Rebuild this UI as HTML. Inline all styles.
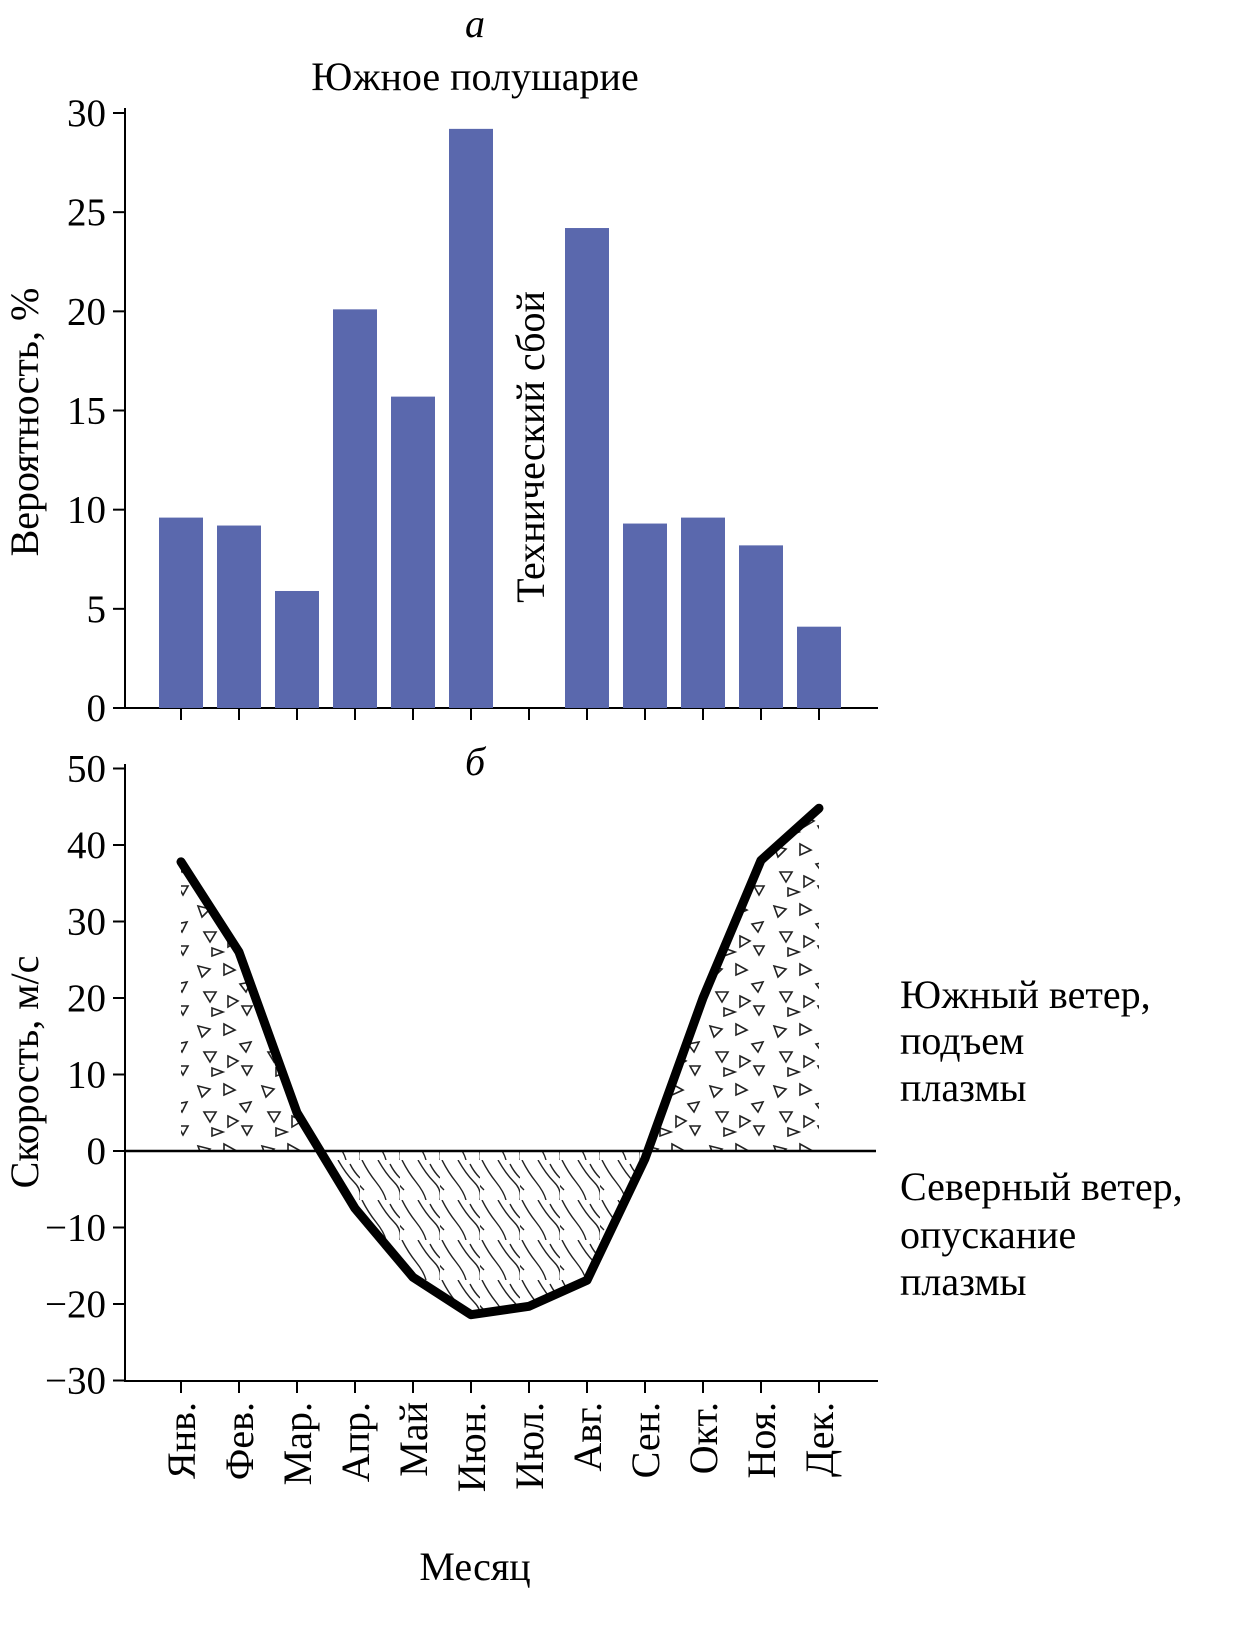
<!DOCTYPE html>
<html><head><meta charset="utf-8"><style>
html,body{margin:0;padding:0;background:#fff}
svg{display:block;font-family:"Liberation Serif",serif}
</style></head><body>
<svg id="c" width="1249" height="1631" viewBox="0 0 1249 1631">
<defs>
<pattern id="tri" width="64" height="60" patternUnits="userSpaceOnUse">
<g fill="none" stroke="#222" stroke-width="1.6">
<path d="M6 6 l12 3 l-8 8z"/><path d="M32 4 l11 6 l-11 5z"/><path d="M48 24 l11 -2 l-5 10z"/>
<path d="M12 32 l12 0 l-6 10z"/><path d="M36 36 l10 5 l-10 6z"/><path d="M20 48 l11 4 l-11 4z"/><path d="M50 46 l10 0 l-5 9z"/>
</g></pattern>
<pattern id="wav" width="40" height="40" patternUnits="userSpaceOnUse">
<g fill="none" stroke="#222" stroke-width="1.4">
<path d="M2 0 q6 12 14 22 t10 18"/><path d="M18 0 q8 14 16 22 t6 18"/><path d="M-12 10 q6 10 16 20"/><path d="M30 4 q4 8 10 14"/>
</g></pattern>
<clipPath id="above"><rect x="125" y="700" width="760" height="451"/></clipPath>
<clipPath id="below"><rect x="125" y="1151" width="760" height="300"/></clipPath>
</defs>
<text x="475" y="37" font-size="40" font-style="italic" text-anchor="middle">а</text>
<text x="475" y="90" font-size="40" text-anchor="middle">Южное полушарие</text>
<text x="475" y="775" font-size="40" font-style="italic" text-anchor="middle">б</text>
<text transform="translate(38,422) rotate(-90)" font-size="40" text-anchor="middle">Вероятность, %</text>
<text transform="translate(38,1072) rotate(-90)" font-size="40" text-anchor="middle">Скорость, м/с</text>
<text transform="translate(544,447) rotate(-90)" font-size="40" text-anchor="middle">Технический сбой</text>
<text x="475" y="1580" font-size="40" text-anchor="middle">Месяц</text>
<g font-size="40">
<text x="900" y="1008">Южный ветер,</text><text x="900" y="1054">подъем</text><text x="900" y="1101">плазмы</text>
<text x="900" y="1200">Северный ветер,</text><text x="900" y="1248">опускание</text><text x="900" y="1295">плазмы</text>
</g>
<g id="topg"></g><g id="botg"></g>
</svg>
<script>
const months=["Янв.","Фев.","Мар.","Апр.","Май","Июн.","Июл.","Авг.","Сен.","Окт.","Ноя.","Дек."];
const probValues=[9.6,9.2,5.9,20.1,15.7,29.2,null,24.2,9.3,9.6,8.2,4.1];
const probTicks=[0,5,10,15,20,25,30];
const speedValues=[37.8,26,5,-7.5,-16.5,-21.4,-20.3,-16.9,-1,20,38,44.8];
const speedTicks=[-30,-20,-10,0,10,20,30,40,50];
const NS="http://www.w3.org/2000/svg";
function mk(p,t,a){const e=document.createElementNS(NS,t);for(const k in a)e.setAttribute(k,a[k]);p.appendChild(e);return e;}
const xAt=i=>181+i*58;
const yTop=v=>708-v*(595/30);
const yBot=v=>1151-v*7.65;
const tg=document.getElementById('topg'),bg=document.getElementById('botg');
let e=mk(tg,'line',{x1:125,y1:108,x2:125,y2:709,stroke:'#000','stroke-width':2});


e=mk(tg,'line',{x1:124,y1:708,x2:878,y2:708,stroke:'#000','stroke-width':2});


probTicks.forEach(t=>{const y=yTop(t);
mk(tg,'line',{x1:113,y1:y,x2:125,y2:y,stroke:'#000','stroke-width':2});
const tx=mk(tg,'text',{x:106,y:y+13,'font-size':39,'text-anchor':'end'});tx.textContent=t;

});
months.forEach((m,i)=>{mk(tg,'line',{x1:xAt(i),y1:708,x2:xAt(i),y2:720,stroke:'#000','stroke-width':2});
const v=probValues[i];if(v==null)return;
const r=mk(tg,'rect',{x:xAt(i)-22,y:yTop(v),width:44,height:708-yTop(v),fill:'#5a68ad'});

});
const pts=speedValues.map((v,i)=>[xAt(i),yBot(v)]);
const poly=pts.map(p=>p.join(',')).join(' ')+' '+xAt(11)+','+yBot(0)+' '+xAt(0)+','+yBot(0);
e=mk(bg,'polygon',{points:poly,fill:'url(#tri)','clip-path':'url(#above)'});


e=mk(bg,'polygon',{points:poly,fill:'url(#wav)','clip-path':'url(#below)'});


e=mk(bg,'line',{x1:125,y1:764,x2:125,y2:1382,stroke:'#000','stroke-width':2});


e=mk(bg,'line',{x1:124,y1:1381,x2:878,y2:1381,stroke:'#000','stroke-width':2});


e=mk(bg,'line',{x1:125,y1:yBot(0),x2:876,y2:yBot(0),stroke:'#000','stroke-width':2.5});


speedTicks.forEach(t=>{const y=yBot(t);
mk(bg,'line',{x1:113,y1:y,x2:125,y2:y,stroke:'#000','stroke-width':2});
const tx=mk(bg,'text',{x:106,y:y+13,'font-size':39,'text-anchor':'end'});tx.textContent=(t<0?'\u2212'+(-t):t);

});
months.forEach((m,i)=>{mk(bg,'line',{x1:xAt(i),y1:1381,x2:xAt(i),y2:1393,stroke:'#000','stroke-width':2});
const tx=mk(bg,'text',{transform:'translate('+(xAt(i)+14)+',1402) rotate(-90)','font-size':40,'text-anchor':'end'});tx.textContent=m;

});
e=mk(bg,'polyline',{points:pts.map(p=>p.join(',')).join(' '),fill:'none',stroke:'#000','stroke-width':9,'stroke-linejoin':'round','stroke-linecap':'round'});


</script>
</body></html>
